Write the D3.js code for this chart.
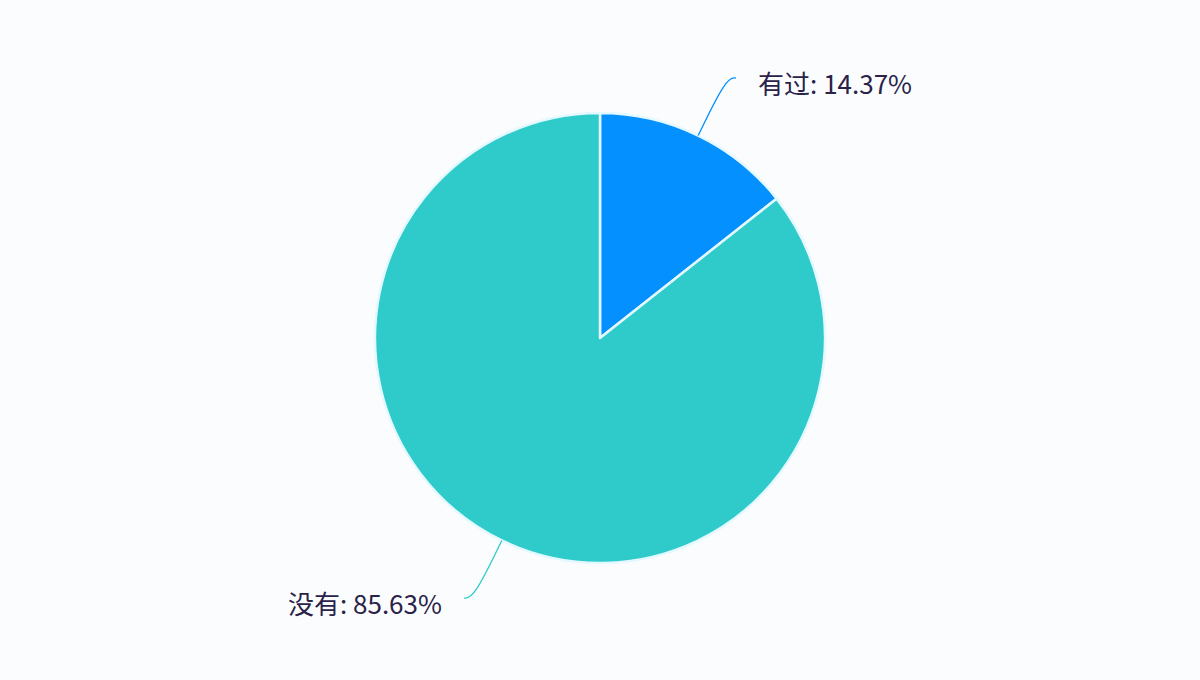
<!DOCTYPE html>
<html>
<head>
<meta charset="utf-8">
<script src="https://cdn.jsdelivr.net/npm/d3@7"></script>
<style>
  html, body { margin: 0; padding: 0; background: #fbfcfe; }
  svg { display: block; }
</style>
</head>
<body>
<div id="chart"></div>
<script>
// Data: share that has / has not
var categories = ['有过', '没有'];
var values = [14.37, 85.63];
var colors = ['#0590ff', '#2fcbcb'];

var W = 1200, H = 680;
var cx = 600, cy = 338, R = 225;

var svg = d3.select('#chart').append('svg')
    .attr('width', W)
    .attr('height', H);

svg.append('rect').attr('width', W).attr('height', H).attr('fill', '#fbfcfe');

var pie = d3.pie().sort(null).value(function (d) { return d; });
var arcs = pie(values);

var arc = d3.arc().innerRadius(0).outerRadius(R);

var g = svg.append('g').attr('transform', 'translate(' + cx + ',' + cy + ')');

g.selectAll('path.slice')
    .data(arcs)
    .join('path')
    .attr('class', 'slice')
    .attr('d', arc)
    .attr('fill', function (d, i) { return colors[i]; })
    .attr('stroke', '#e4f9ff')
    .attr('stroke-width', 2.5)
    .attr('stroke-linejoin', 'round');

// Leader lines, smooth
var line = d3.line().curve(d3.curveBasis);

arcs.forEach(function (d, i) {
    var mid = (d.startAngle + d.endAngle) / 2;
    var sx = Math.sin(mid), sy = -Math.cos(mid);
    var p0 = [sx * R, sy * R];
    var p1 = [sx * (R + 64), sy * (R + 64)];
    var dir = sx >= 0 ? 1 : -1;
    var p2 = [p1[0] + dir * 10, p1[1]];
    g.append('path')
        .attr('d', line([p0, p1, p2]))
        .attr('fill', 'none')
        .attr('stroke', colors[i])
        .attr('stroke-width', 1.3);

    g.append('text')
        .attr('x', p2[0] + dir * 22)
        .attr('y', p2[1] + 16)
        .attr('text-anchor', dir > 0 ? 'start' : 'end')
        .attr('font-family', '"Noto Sans CJK SC", "Noto Sans", sans-serif')
        .attr('font-size', 26)
        .attr('fill', '#2a2248')
        .text(categories[i] + ': ' + values[i].toFixed(2) + '%');
});
</script>
</body>
</html>
